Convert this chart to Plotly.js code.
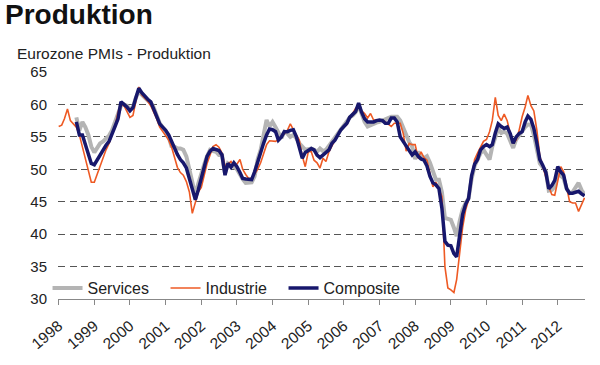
<!DOCTYPE html>
<html><head><meta charset="utf-8">
<script src="https://cdn.plot.ly/plotly-3.0.1.min.js"></script>
<style>html,body{margin:0;padding:0;background:#fff}#chart{width:600px;height:365px}</style>
</head><body><div id="chart"></div>
<script>
// Monthly series; Industrie starts Jan 1998, Services/Composite start Jul 1998
const industrieStart = '1998-01';
const servicesStart = '1998-07';
const compositeStart = '1998-07';

const industrie = [
 56.6, 56.8, 57.8, 59.3, 57.5, 57.0, 56.5, 55.3, 53.5, 51.5, 49.5, 48.0,
 48.0, 49.3, 50.5, 51.8, 53.0, 54.0, 55.2, 56.6, 58.8, 60.0, 59.8, 59.0,
 58.0, 58.3, 60.5, 62.7, 61.5, 61.0, 60.5, 59.8, 58.8, 57.8, 56.5, 55.8,
 55.2, 54.5, 53.5, 52.0, 50.3, 49.5, 49.1, 48.1, 46.5, 43.2, 45.0, 46.5,
 47.2, 49.0, 50.9, 52.2, 53.5, 53.8, 53.4, 52.5, 50.5, 50.8, 51.2, 50.6,
 50.8, 51.5, 50.0, 49.2, 48.6, 48.6, 49.3, 50.0, 51.0, 52.4, 53.8, 54.4,
 54.3, 54.3, 54.6, 55.0, 55.5, 56.0, 57.0, 56.1, 55.2, 54.5, 52.0, 50.4,
 52.7, 52.7, 51.4, 51.0, 50.2, 51.7, 51.2, 52.7, 53.6, 54.5, 55.3, 56.1,
 56.5, 56.9, 57.8, 58.6, 59.4, 59.6, 59.0, 58.6, 57.9, 58.6, 57.6, 57.6,
 57.6, 57.5, 57.3, 57.0, 56.6, 57.1, 57.1, 57.1, 55.5, 52.8, 54.0, 53.8,
 53.8, 51.7, 52.7, 51.8, 51.4, 49.5, 47.3, 48.0, 46.8, 45.8, 35.0, 31.7,
 31.4, 31.0, 33.0, 37.6, 41.0, 43.7, 45.3, 48.5, 51.5, 52.5, 53.5, 54.3,
 54.6, 55.8, 57.5, 61.1, 58.3, 57.5, 58.5, 57.5, 55.5, 54.0, 54.5, 56.0,
 58.1, 59.6, 61.4, 59.8, 59.0, 56.0, 52.0, 50.2, 48.8, 47.3, 46.1, 46.0,
 48.5, 50.4, 49.6, 47.0, 45.0, 44.8, 44.8, 43.5, 44.5, 45.6
];

const services = [
 58.0, 56.0, 57.3, 56.5, 55.3, 53.5,
 52.6, 53.3, 54.0, 54.3, 54.8, 55.2, 56.0, 57.2, 58.5, 59.8, 60.0, 59.8,
 59.3, 59.5, 61.0, 62.0, 61.5, 61.0, 60.6, 60.3, 59.5, 58.3, 57.1, 56.5,
 55.9, 55.0, 53.6, 53.5, 53.2, 53.2, 53.0, 52.0, 50.0, 48.5, 46.0, 47.8,
 49.5, 50.8, 52.0, 53.0, 52.8, 52.7, 52.2, 52.2, 49.4, 50.9, 50.6, 50.4,
 50.0, 49.1, 48.5, 47.9, 47.9, 48.0, 48.9, 51.5, 53.0, 55.0, 57.6, 56.6,
 57.3, 56.5, 55.6, 54.8, 55.8, 55.5, 55.0, 55.3, 54.8, 54.0, 53.5, 53.0,
 53.1, 53.2, 53.0, 52.7, 53.2, 52.8, 53.0, 53.6, 54.3, 55.0, 55.6, 56.1,
 56.8, 57.4, 58.0, 58.3, 58.8, 59.9, 58.6, 57.3, 56.6, 56.8, 57.1, 57.2,
 57.3, 57.5, 57.6, 57.8, 58.1, 58.1, 58.1, 57.5, 56.4, 55.0, 54.2, 53.5,
 51.6, 52.7, 51.9, 51.7, 52.0, 51.0, 49.8, 48.4, 48.4, 46.5, 42.5, 42.3,
 42.2, 41.0, 39.7, 42.0, 43.8, 44.8, 45.5, 48.5, 50.5, 51.5, 52.5, 53.0,
 52.2, 51.5, 53.5, 55.0, 56.3, 55.6, 55.8, 55.5, 54.3, 53.3, 54.6, 55.3,
 55.9, 56.5, 56.9, 56.9, 55.3, 53.0, 50.9, 50.3, 49.7, 46.7, 46.8, 47.3,
 49.6, 49.0, 48.6, 47.0, 46.3, 46.5, 47.3, 47.9, 46.8, 46.1
];

const composite = [
 57.3, 55.3, 55.3, 53.8, 52.2, 50.9,
 50.7, 51.5, 52.2, 53.0, 53.7, 54.3, 55.3, 56.6, 57.8, 60.4, 60.0, 59.6,
 59.0, 59.5, 61.0, 62.5, 61.8, 61.2, 60.8, 60.4, 59.2, 58.0, 57.0, 56.5,
 56.0, 55.3, 54.3, 53.3, 52.3, 51.5, 51.0, 50.2, 48.5, 47.0, 45.3, 46.8,
 48.8, 50.4, 52.0, 52.8, 53.2, 53.1, 52.9, 52.2, 49.1, 50.9, 50.3, 51.0,
 50.4, 49.5, 48.6, 48.5, 48.4, 48.4, 49.6, 51.2, 52.5, 54.0, 55.3, 56.2,
 56.1, 55.8, 54.5, 55.0, 55.8, 55.8, 56.0, 56.1, 55.0, 53.5, 51.7, 52.6,
 52.9, 53.2, 53.0, 52.2, 51.8, 52.2, 52.7, 53.0, 54.0, 54.5, 55.3, 56.1,
 56.6, 57.1, 58.0, 58.4, 58.9, 60.2, 58.8, 57.8, 57.3, 57.3, 57.3, 57.5,
 57.6, 57.5, 57.1, 57.1, 57.9, 57.9, 57.3, 55.0, 54.3, 53.5, 52.8, 52.2,
 52.7, 52.0, 51.6, 51.4, 50.5, 48.9, 47.9, 47.6, 47.0, 44.0, 38.9, 38.3,
 38.2, 37.0, 36.5, 40.0, 43.0, 44.6, 45.5, 49.0, 50.8, 51.5, 53.0, 53.5,
 53.8, 53.5, 53.8, 55.6, 57.0, 56.6, 56.3, 56.5, 55.5, 54.0, 55.0, 55.5,
 55.8, 57.3, 58.2, 57.7, 56.3, 54.0, 51.5, 50.6, 49.5, 47.0, 47.5, 48.3,
 50.4, 49.6, 49.1, 47.0, 46.3, 46.3, 46.5, 46.6, 46.2, 45.9
];

const seriesNames = ['Services', 'Industrie', 'Composite'];
const seriesColors = ['#b4b4b4', '#ee5a24', '#17176c'];
const seriesWidths = [4, 1.6, 3.5];

function monthDates(start, n) {
  const [y, m] = start.split('-').map(Number);
  const out = [];
  for (let i = 0; i < n; i++) {
    const mm = m - 1 + i;
    const yy = y + Math.floor(mm / 12);
    const mo = (mm % 12) + 1;
    out.push(yy + '-' + String(mo).padStart(2, '0') + '-01');
  }
  return out;
}

const data = [
  {x: monthDates(servicesStart, services.length), y: services},
  {x: monthDates(industrieStart, industrie.length), y: industrie},
  {x: monthDates(compositeStart, composite.length), y: composite}
].map((d, i) => ({
  x: d.x, y: d.y, type: 'scatter', mode: 'lines', name: seriesNames[i],
  line: {color: seriesColors[i], width: seriesWidths[i], shape: 'linear'},
  hoverinfo: 'skip'
}));

const layout = {
  width: 600, height: 365,
  margin: {l: 58, r: 15, t: 72, b: 66},
  paper_bgcolor: '#ffffff', plot_bgcolor: '#ffffff',
  font: {family: 'Liberation Sans, Arial, sans-serif', color: '#222222', size: 15},
  showlegend: true,
  legend: {
    orientation: 'h', x: 0.316, xanchor: 'center', y: 0.048, yanchor: 'middle',
    entrywidth: 73, entrywidthmode: 'pixels',
    font: {size: 16, color: '#222222'}, bgcolor: 'rgba(0,0,0,0)', traceorder: 'normal'
  },
  xaxis: {
    type: 'date', range: ['1997-12-25', '2012-10-06'],
    tick0: '1998-01-01', dtick: 'M12', tickformat: '%Y', tickangle: -40,
    ticks: 'outside', ticklen: 5, tickcolor: '#888888', tickwidth: 1,
    ticklabelstandoff: 6,
    showline: true, linecolor: '#888888', linewidth: 1,
    showgrid: false, zeroline: false, tickfont: {size: 15.5, color: '#222222'}
  },
  yaxis: {
    range: [30, 65], tick0: 30, dtick: 5,
    showgrid: true, gridcolor: '#555555', gridwidth: 1, griddash: '7px,4.5px',
    showline: false, zeroline: false, ticks: '', ticklabelstandoff: 10,
    tickfont: {size: 15, color: '#222222'}
  },
  annotations: [
    {text: '<b>Produktion</b>', xref: 'paper', yref: 'paper', x: -0.1044, y: 1.2555,
     xanchor: 'left', yanchor: 'middle', showarrow: false,
     font: {size: 28, color: '#111111', family: 'Liberation Sans, Arial, sans-serif'}},
    {text: 'Eurozone PMIs - Produktion', xref: 'paper', yref: 'paper', x: -0.0816, y: 1.0837,
     xanchor: 'left', yanchor: 'middle', showarrow: false,
     font: {size: 15.5, color: '#222222'}}
  ]
};

Plotly.newPlot('chart', data, layout, {displayModeBar: false, staticPlot: true});
</script>
</body></html>
